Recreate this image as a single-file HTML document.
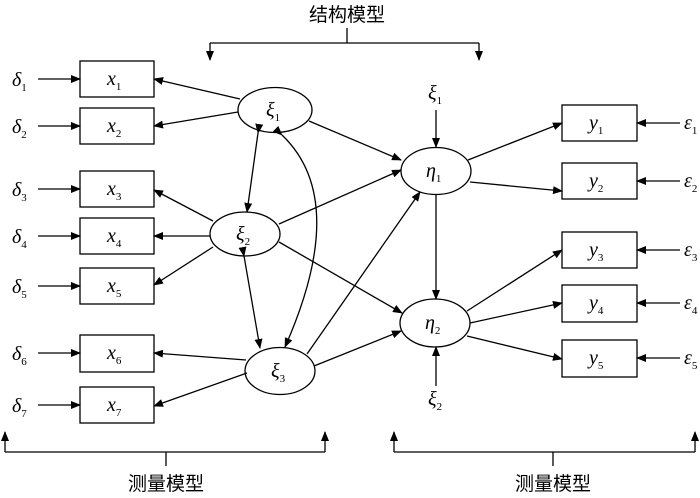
<!DOCTYPE html>
<html><head><meta charset="utf-8"><style>
html,body{margin:0;padding:0;background:#fff}
svg{display:block}
text{font-family:"Liberation Serif","Noto Serif CJK SC",serif;fill:#000}
.g{font-style:italic;font-size:20px}
.s{font-size:11px;font-style:normal}
.cn{font-family:"Liberation Sans","Noto Sans CJK SC",sans-serif;font-size:19px}
</style></head><body>
<svg width="700" height="498" viewBox="0 0 700 498" xmlns="http://www.w3.org/2000/svg">
<defs><marker id="a" markerWidth="10" markerHeight="8" refX="9" refY="4" orient="auto" markerUnits="userSpaceOnUse"><path d="M0,0 L10,4 L0,8 z" fill="#000"/></marker></defs>
<g stroke="#000" stroke-width="1.3" fill="none">
<!-- top bracket -->
<path d="M347,28 V43 M210,43 H479"/>
<line x1="210" y1="43" x2="210" y2="60" marker-end="url(#a)"/>
<line x1="479" y1="43" x2="479" y2="60" marker-end="url(#a)"/>
<!-- bottom brackets -->
<path d="M5,452 H325 M166,452 V466 M394,452 H695 M553,452 V466"/>
<line x1="5" y1="452" x2="5" y2="432" marker-end="url(#a)"/>
<line x1="325" y1="452" x2="325" y2="432" marker-end="url(#a)"/>
<line x1="394" y1="452" x2="394" y2="432" marker-end="url(#a)"/>
<line x1="695" y1="452" x2="695" y2="432" marker-end="url(#a)"/>
<!-- boxes -->
<rect x="80" y="61" width="74" height="36"/><rect x="80" y="108" width="74" height="36"/>
<rect x="80" y="171" width="74" height="36"/><rect x="80" y="218" width="74" height="36"/>
<rect x="80" y="268" width="74" height="36"/><rect x="80" y="335" width="74" height="37"/>
<rect x="80" y="387" width="74" height="36"/>
<rect x="562" y="105" width="75" height="36"/><rect x="562" y="163" width="75" height="36"/>
<rect x="562" y="232" width="75" height="36"/><rect x="562" y="285" width="75" height="37"/>
<rect x="562" y="340" width="75" height="37"/>
<!-- ellipses -->
<ellipse cx="275" cy="110" rx="37" ry="22.5"/>
<ellipse cx="245" cy="234" rx="35" ry="22"/>
<ellipse cx="280" cy="371" rx="35" ry="23.5"/>
<ellipse cx="436" cy="171" rx="35" ry="23.5"/>
<ellipse cx="435" cy="323" rx="35" ry="24"/>
<!-- delta arrows -->
<g marker-end="url(#a)">
<line x1="38" y1="79" x2="80" y2="79"/><line x1="38" y1="126" x2="80" y2="126"/>
<line x1="38" y1="189" x2="80" y2="189"/><line x1="38" y1="236" x2="80" y2="236"/>
<line x1="38" y1="286" x2="80" y2="286"/><line x1="38" y1="353" x2="80" y2="353"/>
<line x1="38" y1="405" x2="80" y2="405"/>
<line x1="680" y1="123" x2="637" y2="123"/><line x1="680" y1="181" x2="637" y2="181"/>
<line x1="680" y1="250" x2="637" y2="250"/><line x1="680" y1="303" x2="637" y2="303"/>
<line x1="680" y1="358" x2="637" y2="358"/>
<!-- xi1 -->
<line x1="240" y1="99" x2="154" y2="79"/><line x1="238" y1="112" x2="154" y2="126"/>
<line x1="309" y1="121" x2="401" y2="160"/>
<!-- xi2 -->
<line x1="213" y1="221" x2="154" y2="190"/><line x1="210" y1="236" x2="154" y2="236"/>
<line x1="213" y1="247" x2="154" y2="285"/>
<line x1="279" y1="224" x2="401" y2="170"/><line x1="279" y1="242" x2="402" y2="313"/>
<!-- xi3 -->
<line x1="246" y1="360" x2="154" y2="353"/><line x1="247" y1="373" x2="154" y2="406"/>
<line x1="307" y1="354" x2="420" y2="192"/><line x1="314" y1="366" x2="401" y2="331"/>
<!-- eta -->
<line x1="436" y1="110" x2="436" y2="147"/><line x1="436" y1="195" x2="436" y2="299"/>
<line x1="436" y1="386" x2="436" y2="347"/>
<line x1="468" y1="160" x2="562" y2="123"/><line x1="470" y1="182" x2="562" y2="191"/>
<line x1="467" y1="311" x2="562" y2="250"/><line x1="470" y1="323" x2="562" y2="303"/>
<line x1="467" y1="336" x2="562" y2="359"/>
</g>
<!-- double arrows -->
<line x1="258" y1="133" x2="247" y2="212" marker-start="url(#a)" marker-end="url(#a)"/>
<line x1="244" y1="256" x2="260" y2="348" marker-start="url(#a)" marker-end="url(#a)"/>
<path d="M282,135 Q350,200 285,347" marker-start="url(#a)" marker-end="url(#a)"/>
</g>
<g class="g">
<text x="12" y="86">δ<tspan class="s" dy="5">1</tspan></text>
<text x="12" y="133">δ<tspan class="s" dy="5">2</tspan></text>
<text x="12" y="196">δ<tspan class="s" dy="5">3</tspan></text>
<text x="12" y="243">δ<tspan class="s" dy="5">4</tspan></text>
<text x="12" y="293">δ<tspan class="s" dy="5">5</tspan></text>
<text x="12" y="360">δ<tspan class="s" dy="5">6</tspan></text>
<text x="12" y="412">δ<tspan class="s" dy="5">7</tspan></text>
<text x="107" y="85">x<tspan class="s" dy="5">1</tspan></text>
<text x="107" y="132">x<tspan class="s" dy="5">2</tspan></text>
<text x="107" y="195">x<tspan class="s" dy="5">3</tspan></text>
<text x="107" y="242">x<tspan class="s" dy="5">4</tspan></text>
<text x="107" y="292">x<tspan class="s" dy="5">5</tspan></text>
<text x="107" y="359">x<tspan class="s" dy="5">6</tspan></text>
<text x="107" y="411">x<tspan class="s" dy="5">7</tspan></text>
<text x="589" y="129">y<tspan class="s" dy="5">1</tspan></text>
<text x="589" y="187">y<tspan class="s" dy="5">2</tspan></text>
<text x="589" y="256">y<tspan class="s" dy="5">3</tspan></text>
<text x="589" y="309">y<tspan class="s" dy="5">4</tspan></text>
<text x="589" y="364">y<tspan class="s" dy="5">5</tspan></text>
<text x="684" y="129">ε<tspan class="s" dy="5">1</tspan></text>
<text x="684" y="187">ε<tspan class="s" dy="5">2</tspan></text>
<text x="684" y="256">ε<tspan class="s" dy="5">3</tspan></text>
<text x="684" y="309">ε<tspan class="s" dy="5">4</tspan></text>
<text x="684" y="364">ε<tspan class="s" dy="5">5</tspan></text>
<text x="266" y="116">ξ<tspan class="s" dy="5">1</tspan></text>
<text x="236" y="240">ξ<tspan class="s" dy="5">2</tspan></text>
<text x="271" y="377">ξ<tspan class="s" dy="5">3</tspan></text>
<text x="426" y="177">η<tspan class="s" dy="5">1</tspan></text>
<text x="425" y="329">η<tspan class="s" dy="5">2</tspan></text>
<text x="428" y="99">ξ<tspan class="s" dy="5">1</tspan></text>
<text x="428" y="405">ξ<tspan class="s" dy="5">2</tspan></text>
</g>
<text class="cn" x="347" y="21" text-anchor="middle">结构模型</text>
<text class="cn" x="166" y="490" text-anchor="middle">测量模型</text>
<text class="cn" x="553" y="490" text-anchor="middle">测量模型</text>
</svg>
</body></html>
